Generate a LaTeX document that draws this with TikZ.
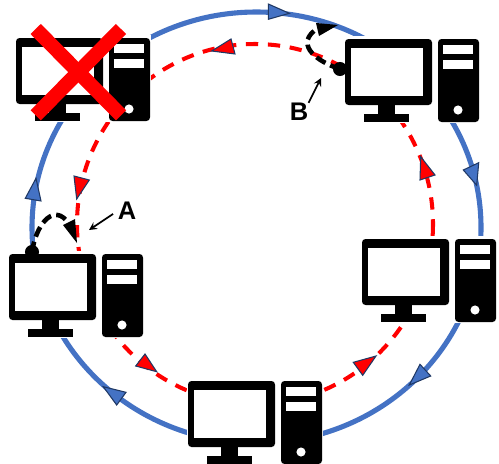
\documentclass[tikz,border=0pt]{standalone}
\usepackage{fontspec}
\setmainfont{Liberation Sans}
\definecolor{ringblue}{HTML}{4472C4}
\definecolor{tipedge}{HTML}{1F3864}
\tikzset{
    bluering/.style={draw=ringblue,line width=2.9pt},
    redring/.style={draw=red,line width=2.3pt,dash pattern=on 7pt off 5.5pt},
    blackloop/.style={draw=black,line width=2.6pt,dash pattern=on 6pt off 3pt},
    bluetip/.style={draw=tipedge,line width=0.6pt,fill=ringblue},
    redtip/.style={draw=tipedge,line width=0.6pt,fill=red},
    looplabel/.style={inner sep=0pt,font=\fontsize{14.5}{16}\selectfont\bfseries},
    computer/.pic={
        \fill[white] (-1,-3) rectangle (135,84);
        \fill[black,rounded corners=2pt] (0,0) rectangle (87,66);
        \fill[white] (6,9) rectangle (78,57);
        \fill[black] (33,66) rectangle (50,75);
        \fill[black] (19,75) rectangle (64,83);
        \fill[black,rounded corners=2pt] (93,0) rectangle (134,83);
        \fill[white] (98,6) rectangle (128,15);
        \fill[white] (98,21) rectangle (128,30);
        \fill[white] (113,71) circle (2.6pt);
    }
}
\begin{document}
\begin{tikzpicture}[x=0.02cm,y=-0.02cm]
    \clip (0,0) rectangle (499,463);

    % the two rings
    \draw[bluering] (256.5,227.5) ellipse [x radius=224.5,y radius=215.5];
    \draw[redring] (255,224) ellipse [x radius=178,y radius=180];

    % blue tips
    \draw[bluetip] (268.3,4) -- (289.3,13.3) -- (268.3,19.3) -- cycle;
    \draw[bluetip] (463.3,170) -- (478.7,162.7) -- (476.7,185.3) -- cycle;
    \draw[bluetip] (420,364.3) -- (430.7,376) -- (409.3,385) -- cycle;
    \draw[bluetip] (103.3,386.7) -- (126,392.3) -- (116.7,405) -- cycle;
    \draw[bluetip] (36,178.3) -- (41,201) -- (25.3,198.3) -- cycle;

    % red tips
    \draw[redtip] (211.7,51) -- (231,39) -- (235,54) -- cycle;
    \draw[redtip] (74,176) -- (89.3,180) -- (76.7,199) -- cycle;
    \draw[redtip] (145,354) -- (156.7,371.7) -- (135.7,366) -- cycle;
    \draw[redtip] (376,356) -- (362.7,375.3) -- (353.3,362.3) -- cycle;
    \draw[redtip] (420.7,156.7) -- (435,175) -- (420,180) -- cycle;

    % computers
    \pic at (16,38) {computer};
    \pic at (345,39) {computer};
    \pic at (362,239) {computer};
    \pic at (188,381) {computer};
    \pic at (9,254) {computer};

    % crossed out
    \draw[red,line width=8.2pt] (35.7,29) -- (121,115.3);
    \draw[red,line width=8.2pt] (121,29) -- (35.7,115.3);

    % loop A
    \node[circle,fill=black,inner sep=0pt,minimum size=8pt] (dotA) at (32,252) {};
    \draw[blackloop] (dotA.center) .. controls (36,225) and (52,205) .. (66,220);
    \fill[black] (63,225) -- (75,219) -- (77,243) -- cycle;
    \node[looplabel] (labelA) at (127,211) {A};
    \coordinate (pointA) at (89,230);
    \draw[-stealth,line width=1pt,shorten <=3pt] (labelA.west) -- (pointA);

    % loop B
    \node[circle,fill=black,inner sep=0pt,minimum size=8pt] (dotB) at (340,69) {};
    \draw[blackloop] (dotB.center) .. controls (318,62) and (296,46) .. (314,31);
    \fill[black] (316,23) -- (338,25) -- (319,36) -- cycle;
    \node[looplabel] (labelB) at (299,112) {B};
    \coordinate (pointB) at (321,78);
    \draw[-stealth,line width=1pt] (labelB.north east) -- (pointB);
\end{tikzpicture}
\end{document}
